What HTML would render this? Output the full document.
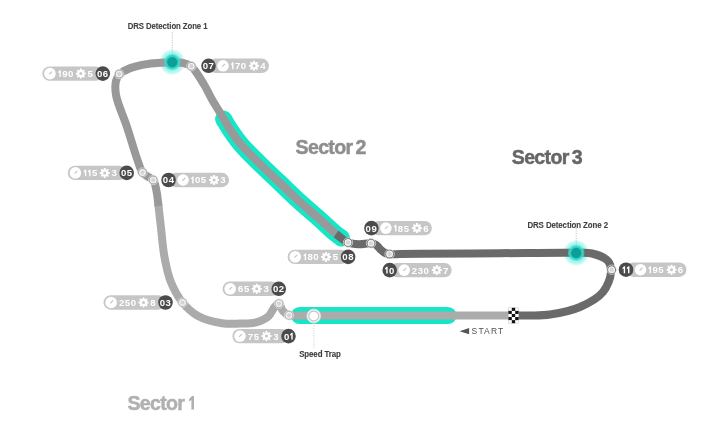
<!DOCTYPE html>
<html><head><meta charset="utf-8"><style>
html,body{margin:0;padding:0;background:#fff;}
body{width:720px;height:440px;overflow:hidden;position:relative;font-family:"Liberation Sans",sans-serif;}
svg{position:absolute;left:0;top:0;will-change:transform;filter:blur(0.35px);}
</style></head><body>
<svg width="720" height="440" viewBox="0 0 720 440">
<defs><radialGradient id="glow"><stop offset="0" stop-color="#5fe8dc"/><stop offset="0.55" stop-color="#8ef1e8"/><stop offset="0.85" stop-color="#c4f8f3"/><stop offset="1" stop-color="#e4fcfa" stop-opacity="0.5"/></radialGradient></defs>
<circle cx="172.25" cy="62.10" r="13" fill="url(#glow)"/>
<line x1="172.25" y1="32.10" x2="172.25" y2="56.10" stroke="#8fb4b2" stroke-width="0.7" stroke-dasharray="1.2 1.3"/>
<circle cx="576.20" cy="252.90" r="13" fill="url(#glow)"/>
<line x1="576.20" y1="222.90" x2="576.20" y2="246.90" stroke="#8fb4b2" stroke-width="0.7" stroke-dasharray="1.2 1.3"/>
<path d="M 223.60 119.00 C 225.83 122.67 227.71 126.14 230.30 130.00 C 233.37 134.56 236.72 139.46 241.00 144.50 C 246.26 150.69 253.52 157.60 260.00 164.00 C 266.52 170.44 273.33 176.67 280.00 183.00 C 286.67 189.33 293.27 195.86 300.00 202.00 C 306.61 208.02 313.73 213.91 320.00 219.50 C 325.65 224.53 331.99 230.74 336.00 234.00 C 338.25 235.83 339.67 236.67 341.50 238.00" fill="none" stroke="#16e5c6" stroke-width="17" stroke-linecap="round" stroke-linejoin="round"/>
<path d="M 299.5 315.5 L 448 315.5" fill="none" stroke="#16e5c6" stroke-width="17.2" stroke-linecap="round"/>
<path d="M 513.00 315.50 C 495.33 315.50 479.48 315.50 460.00 315.50 C 436.07 315.50 406.67 315.52 380.00 315.50 C 353.33 315.48 314.43 315.47 300.00 315.40 C 294.65 315.37 292.02 316.29 289.00 315.30 C 286.48 314.47 284.45 312.71 282.80 310.80 C 281.09 308.83 280.53 303.94 279.00 303.60 C 277.77 303.33 276.21 305.30 274.80 306.80 C 272.73 309.00 271.38 313.67 268.50 316.20 C 265.30 319.01 260.56 321.15 256.00 322.40 C 251.11 323.74 245.49 323.46 240.00 323.60 C 234.18 323.75 228.36 324.21 222.00 323.20 C 214.50 322.01 204.80 319.75 198.00 316.00 C 191.85 312.61 186.94 307.98 182.50 302.50 C 177.64 296.50 173.52 288.65 170.50 281.00 C 167.41 273.17 165.87 264.62 164.30 256.00 C 162.66 246.98 162.02 236.77 161.00 228.00 C 160.10 220.23 158.95 209.40 158.50 206.00 C 158.36 204.97 158.30 204.67 158.20 204.00" fill="none" stroke="#ababab" stroke-width="8" stroke-linejoin="round"/>
<path d="M 158.50 206.00 C 157.83 201.00 157.48 195.58 156.50 191.00 C 155.65 187.01 155.14 182.45 153.25 180.00 C 151.80 178.12 149.31 177.77 147.50 176.50 C 145.73 175.26 143.96 174.46 142.50 172.50 C 140.39 169.66 139.36 165.20 137.50 160.00 C 134.51 151.66 130.61 137.89 127.00 127.00 C 123.44 116.23 117.44 103.59 116.00 95.00 C 115.08 89.47 115.09 84.74 116.00 81.00 C 116.67 78.25 117.43 76.28 119.50 74.25 C 122.62 71.19 128.51 68.51 135.00 66.60 C 144.55 63.78 163.31 62.47 172.25 62.30 C 177.26 62.20 180.61 62.37 184.00 63.20 C 186.78 63.88 188.83 64.30 191.30 66.30 C 195.43 69.65 200.36 78.57 204.00 84.50 C 207.24 89.78 209.38 94.92 212.30 100.00 C 215.22 105.08 218.49 109.99 221.50 115.00 C 224.49 119.99 227.08 125.12 230.30 130.00 C 233.57 134.96 236.72 139.46 241.00 144.50 C 246.26 150.69 253.52 157.60 260.00 164.00 C 266.52 170.44 273.33 176.67 280.00 183.00 C 286.67 189.33 293.27 195.86 300.00 202.00 C 306.61 208.02 313.73 213.91 320.00 219.50 C 325.65 224.53 330.67 229.17 336.00 234.00" fill="none" stroke="#999999" stroke-width="8" stroke-linejoin="round"/>
<path d="M 336.00 234.00 C 340.00 236.83 343.89 240.83 348.00 242.50 C 351.58 243.95 355.24 244.05 359.00 244.20 C 362.90 244.35 367.89 242.96 371.00 243.30 C 373.05 243.52 374.51 243.89 376.00 244.80 C 377.61 245.79 378.74 247.87 380.20 249.20 C 381.58 250.46 382.92 251.78 384.50 252.60 C 386.06 253.41 387.58 253.82 389.60 254.10 C 392.43 254.49 395.97 254.04 400.00 254.00 C 405.59 253.95 411.11 253.88 420.00 253.80 C 437.78 253.64 473.66 253.37 500.00 253.20 C 525.71 253.04 560.31 252.49 576.20 252.80 C 583.44 252.94 586.84 252.23 592.00 253.50 C 597.45 254.84 604.93 257.36 608.00 261.00 C 610.46 263.93 611.24 267.83 611.00 272.00 C 610.67 277.72 607.60 286.38 603.00 292.00 C 597.80 298.34 588.52 303.28 580.00 307.00 C 570.96 310.94 559.05 313.16 550.00 314.50 C 542.72 315.58 536.40 315.34 530.00 315.50 C 524.11 315.65 518.67 315.50 513.00 315.50" fill="none" stroke="#6a6a6a" stroke-width="8" stroke-linejoin="round"/>
<circle cx="289.00" cy="315.30" r="4.7" fill="#aaaaaa" stroke="#e6e6e6" stroke-width="0.7"/>
<circle cx="289.00" cy="315.30" r="2.8" fill="#d4d4d4" stroke="#f0f0f0" stroke-width="1.4"/>
<circle cx="279.00" cy="303.60" r="4.7" fill="#aaaaaa" stroke="#e6e6e6" stroke-width="0.7"/>
<circle cx="279.00" cy="303.60" r="2.8" fill="#d4d4d4" stroke="#f0f0f0" stroke-width="1.4"/>
<circle cx="182.50" cy="302.50" r="4.7" fill="#aaaaaa" stroke="#e6e6e6" stroke-width="0.7"/>
<circle cx="182.50" cy="302.50" r="2.8" fill="#d4d4d4" stroke="#f0f0f0" stroke-width="1.4"/>
<circle cx="153.25" cy="180.00" r="4.7" fill="#999999" stroke="#e6e6e6" stroke-width="0.7"/>
<circle cx="153.25" cy="180.00" r="2.8" fill="#d4d4d4" stroke="#f0f0f0" stroke-width="1.4"/>
<circle cx="142.50" cy="172.50" r="4.7" fill="#999999" stroke="#e6e6e6" stroke-width="0.7"/>
<circle cx="142.50" cy="172.50" r="2.8" fill="#d4d4d4" stroke="#f0f0f0" stroke-width="1.4"/>
<circle cx="119.20" cy="74.10" r="4.7" fill="#999999" stroke="#e6e6e6" stroke-width="0.7"/>
<circle cx="119.20" cy="74.10" r="2.8" fill="#d4d4d4" stroke="#f0f0f0" stroke-width="1.4"/>
<circle cx="191.30" cy="66.20" r="4.7" fill="#999999" stroke="#e6e6e6" stroke-width="0.7"/>
<circle cx="191.30" cy="66.20" r="2.8" fill="#d4d4d4" stroke="#f0f0f0" stroke-width="1.4"/>
<circle cx="348.00" cy="242.50" r="4.7" fill="#6a6a6a" stroke="#e6e6e6" stroke-width="0.7"/>
<circle cx="348.00" cy="242.50" r="2.8" fill="#d4d4d4" stroke="#f0f0f0" stroke-width="1.4"/>
<circle cx="371.00" cy="243.30" r="4.7" fill="#6a6a6a" stroke="#e6e6e6" stroke-width="0.7"/>
<circle cx="371.00" cy="243.30" r="2.8" fill="#d4d4d4" stroke="#f0f0f0" stroke-width="1.4"/>
<circle cx="389.60" cy="254.10" r="4.7" fill="#6a6a6a" stroke="#e6e6e6" stroke-width="0.7"/>
<circle cx="389.60" cy="254.10" r="2.8" fill="#d4d4d4" stroke="#f0f0f0" stroke-width="1.4"/>
<circle cx="611.60" cy="269.70" r="4.7" fill="#6a6a6a" stroke="#e6e6e6" stroke-width="0.7"/>
<circle cx="611.60" cy="269.70" r="2.8" fill="#d4d4d4" stroke="#f0f0f0" stroke-width="1.4"/>
<circle cx="172.25" cy="62.10" r="8.2" fill="#4fe2d6" fill-opacity="0.6"/>
<circle cx="172.25" cy="62.10" r="7" fill="#2ad6c7"/>
<circle cx="172.25" cy="62.10" r="5.2" fill="#0f9d98"/>
<circle cx="576.20" cy="252.90" r="8.2" fill="#4fe2d6" fill-opacity="0.6"/>
<circle cx="576.20" cy="252.90" r="7" fill="#2ad6c7"/>
<circle cx="576.20" cy="252.90" r="5.2" fill="#0f9d98"/>
<text x="127.8" y="29.1" font-family="Liberation Sans" font-weight="bold" font-size="8.6" fill="#404040" letter-spacing="-0.1" stroke="#404040" stroke-width="0.1" textLength="79.6" lengthAdjust="spacingAndGlyphs">DRS Detection Zone 1</text>
<text x="527.4" y="227.6" font-family="Liberation Sans" font-weight="bold" font-size="8.6" fill="#404040" letter-spacing="-0.1" stroke="#404040" stroke-width="0.1" textLength="80.6" lengthAdjust="spacingAndGlyphs">DRS Detection Zone 2</text>
<line x1="313.9" y1="323" x2="313.9" y2="348.5" stroke="#c4c4c4" stroke-width="0.7" stroke-dasharray="1.2 1.2"/>
<circle cx="313.75" cy="316" r="7" fill="#f4f4f4" stroke="#d8d8d8" stroke-width="0.6"/>
<circle cx="313.75" cy="316" r="5" fill="#ffffff" stroke="#cacaca" stroke-width="1.3"/>
<text x="299.2" y="357" font-family="Liberation Sans" font-weight="bold" font-size="9" fill="#3c3c3c" letter-spacing="-0.1" stroke="#3c3c3c" stroke-width="0.12" textLength="41.6" lengthAdjust="spacingAndGlyphs">Speed Trap</text>
<path d="M 459.6 331.2 L 469.1 328.1 L 469.1 334.3 Z" fill="#555"/>
<text x="471.6" y="333.9" font-family="Liberation Sans" font-size="8.5" fill="#505050" letter-spacing="1.15">START</text>
<rect x="508.40" y="307.80" width="10.2" height="15.4" fill="#fff" stroke="#ccc" stroke-width="0.6"/>
<rect x="511.80" y="307.80" width="3.40" height="3.08" fill="#111"/>
<rect x="508.40" y="310.88" width="3.40" height="3.08" fill="#111"/>
<rect x="515.20" y="310.88" width="3.40" height="3.08" fill="#111"/>
<rect x="511.80" y="313.96" width="3.40" height="3.08" fill="#111"/>
<rect x="508.40" y="317.04" width="3.40" height="3.08" fill="#111"/>
<rect x="515.20" y="317.04" width="3.40" height="3.08" fill="#111"/>
<rect x="511.80" y="320.12" width="3.40" height="3.08" fill="#111"/>
<rect x="232.35" y="328.90" width="56.15" height="14.4" rx="7.2" fill="#c6c6c6"/>
<circle cx="288.50" cy="336.10" r="7.3" fill="#4b4b4b"/>
<text x="283.90" y="339.55" font-family="Liberation Sans" font-weight="bold" font-size="9.60" fill="#fff">0</text>
<path d="M 292.70 339.55 L 291.30 339.55 L 291.30 334.85 L 290.15 335.65 L 290.15 334.25 L 291.65 332.65 L 292.70 332.65 Z" fill="#fff"/>
<circle cx="239.95" cy="336.10" r="5.8" fill="#fff"/>
<line x1="239.15" y1="336.90" x2="241.95" y2="334.10" stroke="#c4c4c4" stroke-width="1.1"/>
<text x="247.85" y="339.55" font-family="Liberation Sans" font-weight="bold" font-size="9.60" fill="#fff">7</text>
<text x="253.70" y="339.55" font-family="Liberation Sans" font-weight="bold" font-size="9.60" fill="#fff">5</text>
<path d="M 271.52 335.22 L 271.52 336.98 L 270.07 337.08 L 269.71 337.93 L 270.67 339.03 L 269.43 340.27 L 268.33 339.31 L 267.48 339.67 L 267.38 341.12 L 265.62 341.12 L 265.52 339.67 L 264.67 339.31 L 263.57 340.27 L 262.33 339.03 L 263.29 337.93 L 262.93 337.08 L 261.48 336.98 L 261.48 335.22 L 262.93 335.12 L 263.29 334.27 L 262.33 333.17 L 263.57 331.93 L 264.67 332.89 L 265.52 332.53 L 265.62 331.08 L 267.38 331.08 L 267.48 332.53 L 268.33 332.89 L 269.43 331.93 L 270.67 333.17 L 269.71 334.27 L 270.07 335.12 Z" fill="#fff"/>
<circle cx="266.50" cy="336.10" r="1.5" fill="#c6c6c6"/>
<text x="273.20" y="339.55" font-family="Liberation Sans" font-weight="bold" font-size="9.60" fill="#fff">3</text>
<rect x="222.60" y="281.60" width="56.15" height="14.4" rx="7.2" fill="#c6c6c6"/>
<circle cx="278.75" cy="288.80" r="7.3" fill="#4b4b4b"/>
<text x="272.98" y="292.25" font-family="Liberation Sans" font-weight="bold" font-size="9.60" fill="#fff">0</text>
<text x="278.83" y="292.25" font-family="Liberation Sans" font-weight="bold" font-size="9.60" fill="#fff">2</text>
<circle cx="230.20" cy="288.80" r="5.8" fill="#fff"/>
<line x1="229.40" y1="289.60" x2="232.20" y2="286.80" stroke="#c4c4c4" stroke-width="1.1"/>
<text x="238.10" y="292.25" font-family="Liberation Sans" font-weight="bold" font-size="9.60" fill="#fff">6</text>
<text x="243.95" y="292.25" font-family="Liberation Sans" font-weight="bold" font-size="9.60" fill="#fff">5</text>
<path d="M 261.77 287.92 L 261.77 289.68 L 260.32 289.78 L 259.96 290.63 L 260.92 291.73 L 259.68 292.97 L 258.58 292.01 L 257.73 292.37 L 257.63 293.82 L 255.87 293.82 L 255.77 292.37 L 254.92 292.01 L 253.82 292.97 L 252.58 291.73 L 253.54 290.63 L 253.18 289.78 L 251.73 289.68 L 251.73 287.92 L 253.18 287.82 L 253.54 286.97 L 252.58 285.87 L 253.82 284.63 L 254.92 285.59 L 255.77 285.23 L 255.87 283.78 L 257.63 283.78 L 257.73 285.23 L 258.58 285.59 L 259.68 284.63 L 260.92 285.87 L 259.96 286.97 L 260.32 287.82 Z" fill="#fff"/>
<circle cx="256.75" cy="288.80" r="1.5" fill="#c6c6c6"/>
<text x="263.45" y="292.25" font-family="Liberation Sans" font-weight="bold" font-size="9.60" fill="#fff">3</text>
<rect x="103.50" y="295.30" width="62.00" height="14.4" rx="7.2" fill="#c6c6c6"/>
<circle cx="165.50" cy="302.50" r="7.3" fill="#4b4b4b"/>
<text x="159.72" y="305.95" font-family="Liberation Sans" font-weight="bold" font-size="9.60" fill="#fff">0</text>
<text x="165.57" y="305.95" font-family="Liberation Sans" font-weight="bold" font-size="9.60" fill="#fff">3</text>
<circle cx="111.10" cy="302.50" r="5.8" fill="#fff"/>
<line x1="110.30" y1="303.30" x2="113.10" y2="300.50" stroke="#c4c4c4" stroke-width="1.1"/>
<text x="119.00" y="305.95" font-family="Liberation Sans" font-weight="bold" font-size="9.60" fill="#fff">2</text>
<text x="124.85" y="305.95" font-family="Liberation Sans" font-weight="bold" font-size="9.60" fill="#fff">5</text>
<text x="130.70" y="305.95" font-family="Liberation Sans" font-weight="bold" font-size="9.60" fill="#fff">0</text>
<path d="M 148.52 301.62 L 148.52 303.38 L 147.07 303.48 L 146.71 304.33 L 147.67 305.43 L 146.43 306.67 L 145.33 305.71 L 144.48 306.07 L 144.38 307.52 L 142.62 307.52 L 142.52 306.07 L 141.67 305.71 L 140.57 306.67 L 139.33 305.43 L 140.29 304.33 L 139.93 303.48 L 138.48 303.38 L 138.48 301.62 L 139.93 301.52 L 140.29 300.67 L 139.33 299.57 L 140.57 298.33 L 141.67 299.29 L 142.52 298.93 L 142.62 297.48 L 144.38 297.48 L 144.48 298.93 L 145.33 299.29 L 146.43 298.33 L 147.67 299.57 L 146.71 300.67 L 147.07 301.52 Z" fill="#fff"/>
<circle cx="143.50" cy="302.50" r="1.5" fill="#c6c6c6"/>
<text x="150.20" y="305.95" font-family="Liberation Sans" font-weight="bold" font-size="9.60" fill="#fff">8</text>
<rect x="168.60" y="172.80" width="60.45" height="14.4" rx="7.2" fill="#c6c6c6"/>
<circle cx="168.60" cy="180.00" r="7.3" fill="#4b4b4b"/>
<text x="162.82" y="183.45" font-family="Liberation Sans" font-weight="bold" font-size="9.60" fill="#fff">0</text>
<text x="168.67" y="183.45" font-family="Liberation Sans" font-weight="bold" font-size="9.60" fill="#fff">4</text>
<circle cx="183.10" cy="180.00" r="5.8" fill="#fff"/>
<line x1="182.30" y1="180.80" x2="185.10" y2="178.00" stroke="#c4c4c4" stroke-width="1.1"/>
<path d="M 193.65 183.45 L 192.25 183.45 L 192.25 178.75 L 191.10 179.55 L 191.10 178.15 L 192.60 176.55 L 193.65 176.55 Z" fill="#fff"/>
<text x="195.00" y="183.45" font-family="Liberation Sans" font-weight="bold" font-size="9.60" fill="#fff">0</text>
<text x="200.85" y="183.45" font-family="Liberation Sans" font-weight="bold" font-size="9.60" fill="#fff">5</text>
<path d="M 219.17 179.12 L 219.17 180.88 L 217.72 180.98 L 217.36 181.83 L 218.32 182.93 L 217.08 184.17 L 215.98 183.21 L 215.13 183.57 L 215.03 185.02 L 213.27 185.02 L 213.17 183.57 L 212.32 183.21 L 211.22 184.17 L 209.98 182.93 L 210.94 181.83 L 210.58 180.98 L 209.13 180.88 L 209.13 179.12 L 210.58 179.02 L 210.94 178.17 L 209.98 177.07 L 211.22 175.83 L 212.32 176.79 L 213.17 176.43 L 213.27 174.98 L 215.03 174.98 L 215.13 176.43 L 215.98 176.79 L 217.08 175.83 L 218.32 177.07 L 217.36 178.17 L 217.72 179.02 Z" fill="#fff"/>
<circle cx="214.15" cy="180.00" r="1.5" fill="#c6c6c6"/>
<text x="220.35" y="183.45" font-family="Liberation Sans" font-weight="bold" font-size="9.60" fill="#fff">3</text>
<rect x="67.80" y="165.70" width="58.90" height="14.4" rx="7.2" fill="#c6c6c6"/>
<circle cx="126.70" cy="172.90" r="7.3" fill="#4b4b4b"/>
<text x="120.92" y="176.35" font-family="Liberation Sans" font-weight="bold" font-size="9.60" fill="#fff">0</text>
<text x="126.77" y="176.35" font-family="Liberation Sans" font-weight="bold" font-size="9.60" fill="#fff">5</text>
<circle cx="75.40" cy="172.90" r="5.8" fill="#fff"/>
<line x1="74.60" y1="173.70" x2="77.40" y2="170.90" stroke="#c4c4c4" stroke-width="1.1"/>
<path d="M 86.25 176.35 L 84.85 176.35 L 84.85 171.65 L 83.70 172.45 L 83.70 171.05 L 85.20 169.45 L 86.25 169.45 Z" fill="#fff"/>
<path d="M 90.55 176.35 L 89.15 176.35 L 89.15 171.65 L 88.00 172.45 L 88.00 171.05 L 89.50 169.45 L 90.55 169.45 Z" fill="#fff"/>
<text x="91.90" y="176.35" font-family="Liberation Sans" font-weight="bold" font-size="9.60" fill="#fff">5</text>
<path d="M 109.72 172.02 L 109.72 173.78 L 108.27 173.88 L 107.91 174.73 L 108.87 175.83 L 107.63 177.07 L 106.53 176.11 L 105.68 176.47 L 105.58 177.92 L 103.82 177.92 L 103.72 176.47 L 102.87 176.11 L 101.77 177.07 L 100.53 175.83 L 101.49 174.73 L 101.13 173.88 L 99.68 173.78 L 99.68 172.02 L 101.13 171.92 L 101.49 171.07 L 100.53 169.97 L 101.77 168.73 L 102.87 169.69 L 103.72 169.33 L 103.82 167.88 L 105.58 167.88 L 105.68 169.33 L 106.53 169.69 L 107.63 168.73 L 108.87 169.97 L 107.91 171.07 L 108.27 171.92 Z" fill="#fff"/>
<circle cx="104.70" cy="172.90" r="1.5" fill="#c6c6c6"/>
<text x="111.40" y="176.35" font-family="Liberation Sans" font-weight="bold" font-size="9.60" fill="#fff">3</text>
<rect x="42.35" y="66.40" width="60.45" height="14.4" rx="7.2" fill="#c6c6c6"/>
<circle cx="102.80" cy="73.60" r="7.3" fill="#4b4b4b"/>
<text x="97.02" y="77.05" font-family="Liberation Sans" font-weight="bold" font-size="9.60" fill="#fff">0</text>
<text x="102.87" y="77.05" font-family="Liberation Sans" font-weight="bold" font-size="9.60" fill="#fff">6</text>
<circle cx="49.95" cy="73.60" r="5.8" fill="#fff"/>
<line x1="49.15" y1="74.40" x2="51.95" y2="71.60" stroke="#c4c4c4" stroke-width="1.1"/>
<path d="M 60.80 77.05 L 59.40 77.05 L 59.40 72.35 L 58.25 73.15 L 58.25 71.75 L 59.75 70.15 L 60.80 70.15 Z" fill="#fff"/>
<text x="62.15" y="77.05" font-family="Liberation Sans" font-weight="bold" font-size="9.60" fill="#fff">9</text>
<text x="68.00" y="77.05" font-family="Liberation Sans" font-weight="bold" font-size="9.60" fill="#fff">0</text>
<path d="M 85.82 72.72 L 85.82 74.48 L 84.37 74.58 L 84.01 75.43 L 84.97 76.53 L 83.73 77.77 L 82.63 76.81 L 81.78 77.17 L 81.68 78.62 L 79.92 78.62 L 79.82 77.17 L 78.97 76.81 L 77.87 77.77 L 76.63 76.53 L 77.59 75.43 L 77.23 74.58 L 75.78 74.48 L 75.78 72.72 L 77.23 72.62 L 77.59 71.77 L 76.63 70.67 L 77.87 69.43 L 78.97 70.39 L 79.82 70.03 L 79.92 68.58 L 81.68 68.58 L 81.78 70.03 L 82.63 70.39 L 83.73 69.43 L 84.97 70.67 L 84.01 71.77 L 84.37 72.62 Z" fill="#fff"/>
<circle cx="80.80" cy="73.60" r="1.5" fill="#c6c6c6"/>
<text x="87.50" y="77.05" font-family="Liberation Sans" font-weight="bold" font-size="9.60" fill="#fff">5</text>
<rect x="208.50" y="58.60" width="60.45" height="14.4" rx="7.2" fill="#c6c6c6"/>
<circle cx="208.50" cy="65.80" r="7.3" fill="#4b4b4b"/>
<text x="202.72" y="69.25" font-family="Liberation Sans" font-weight="bold" font-size="9.60" fill="#fff">0</text>
<text x="208.57" y="69.25" font-family="Liberation Sans" font-weight="bold" font-size="9.60" fill="#fff">7</text>
<circle cx="223.00" cy="65.80" r="5.8" fill="#fff"/>
<line x1="222.20" y1="66.60" x2="225.00" y2="63.80" stroke="#c4c4c4" stroke-width="1.1"/>
<path d="M 233.55 69.25 L 232.15 69.25 L 232.15 64.55 L 231.00 65.35 L 231.00 63.95 L 232.50 62.35 L 233.55 62.35 Z" fill="#fff"/>
<text x="234.90" y="69.25" font-family="Liberation Sans" font-weight="bold" font-size="9.60" fill="#fff">7</text>
<text x="240.75" y="69.25" font-family="Liberation Sans" font-weight="bold" font-size="9.60" fill="#fff">0</text>
<path d="M 259.07 64.92 L 259.07 66.68 L 257.62 66.78 L 257.26 67.63 L 258.22 68.73 L 256.98 69.97 L 255.88 69.01 L 255.03 69.37 L 254.93 70.82 L 253.17 70.82 L 253.07 69.37 L 252.22 69.01 L 251.12 69.97 L 249.88 68.73 L 250.84 67.63 L 250.48 66.78 L 249.03 66.68 L 249.03 64.92 L 250.48 64.82 L 250.84 63.97 L 249.88 62.87 L 251.12 61.63 L 252.22 62.59 L 253.07 62.23 L 253.17 60.78 L 254.93 60.78 L 255.03 62.23 L 255.88 62.59 L 256.98 61.63 L 258.22 62.87 L 257.26 63.97 L 257.62 64.82 Z" fill="#fff"/>
<circle cx="254.05" cy="65.80" r="1.5" fill="#c6c6c6"/>
<text x="260.25" y="69.25" font-family="Liberation Sans" font-weight="bold" font-size="9.60" fill="#fff">4</text>
<rect x="287.65" y="249.70" width="60.45" height="14.4" rx="7.2" fill="#c6c6c6"/>
<circle cx="348.10" cy="256.90" r="7.3" fill="#4b4b4b"/>
<text x="342.33" y="260.35" font-family="Liberation Sans" font-weight="bold" font-size="9.60" fill="#fff">0</text>
<text x="348.18" y="260.35" font-family="Liberation Sans" font-weight="bold" font-size="9.60" fill="#fff">8</text>
<circle cx="295.25" cy="256.90" r="5.8" fill="#fff"/>
<line x1="294.45" y1="257.70" x2="297.25" y2="254.90" stroke="#c4c4c4" stroke-width="1.1"/>
<path d="M 306.10 260.35 L 304.70 260.35 L 304.70 255.65 L 303.55 256.45 L 303.55 255.05 L 305.05 253.45 L 306.10 253.45 Z" fill="#fff"/>
<text x="307.45" y="260.35" font-family="Liberation Sans" font-weight="bold" font-size="9.60" fill="#fff">8</text>
<text x="313.30" y="260.35" font-family="Liberation Sans" font-weight="bold" font-size="9.60" fill="#fff">0</text>
<path d="M 331.12 256.02 L 331.12 257.78 L 329.67 257.88 L 329.31 258.73 L 330.27 259.83 L 329.03 261.07 L 327.93 260.11 L 327.08 260.47 L 326.98 261.92 L 325.22 261.92 L 325.12 260.47 L 324.27 260.11 L 323.17 261.07 L 321.93 259.83 L 322.89 258.73 L 322.53 257.88 L 321.08 257.78 L 321.08 256.02 L 322.53 255.92 L 322.89 255.07 L 321.93 253.97 L 323.17 252.73 L 324.27 253.69 L 325.12 253.33 L 325.22 251.88 L 326.98 251.88 L 327.08 253.33 L 327.93 253.69 L 329.03 252.73 L 330.27 253.97 L 329.31 255.07 L 329.67 255.92 Z" fill="#fff"/>
<circle cx="326.10" cy="256.90" r="1.5" fill="#c6c6c6"/>
<text x="332.80" y="260.35" font-family="Liberation Sans" font-weight="bold" font-size="9.60" fill="#fff">5</text>
<rect x="371.40" y="220.90" width="60.45" height="14.4" rx="7.2" fill="#c6c6c6"/>
<circle cx="371.40" cy="228.10" r="7.3" fill="#4b4b4b"/>
<text x="365.62" y="231.55" font-family="Liberation Sans" font-weight="bold" font-size="9.60" fill="#fff">0</text>
<text x="371.48" y="231.55" font-family="Liberation Sans" font-weight="bold" font-size="9.60" fill="#fff">9</text>
<circle cx="385.90" cy="228.10" r="5.8" fill="#fff"/>
<line x1="385.10" y1="228.90" x2="387.90" y2="226.10" stroke="#c4c4c4" stroke-width="1.1"/>
<path d="M 396.45 231.55 L 395.05 231.55 L 395.05 226.85 L 393.90 227.65 L 393.90 226.25 L 395.40 224.65 L 396.45 224.65 Z" fill="#fff"/>
<text x="397.80" y="231.55" font-family="Liberation Sans" font-weight="bold" font-size="9.60" fill="#fff">8</text>
<text x="403.65" y="231.55" font-family="Liberation Sans" font-weight="bold" font-size="9.60" fill="#fff">5</text>
<path d="M 421.97 227.22 L 421.97 228.98 L 420.52 229.08 L 420.16 229.93 L 421.12 231.03 L 419.88 232.27 L 418.78 231.31 L 417.93 231.67 L 417.83 233.12 L 416.07 233.12 L 415.97 231.67 L 415.12 231.31 L 414.02 232.27 L 412.78 231.03 L 413.74 229.93 L 413.38 229.08 L 411.93 228.98 L 411.93 227.22 L 413.38 227.12 L 413.74 226.27 L 412.78 225.17 L 414.02 223.93 L 415.12 224.89 L 415.97 224.53 L 416.07 223.08 L 417.83 223.08 L 417.93 224.53 L 418.78 224.89 L 419.88 223.93 L 421.12 225.17 L 420.16 226.27 L 420.52 227.12 Z" fill="#fff"/>
<circle cx="416.95" cy="228.10" r="1.5" fill="#c6c6c6"/>
<text x="423.15" y="231.55" font-family="Liberation Sans" font-weight="bold" font-size="9.60" fill="#fff">6</text>
<rect x="389.70" y="262.90" width="62.00" height="14.4" rx="7.2" fill="#c6c6c6"/>
<circle cx="389.70" cy="270.10" r="7.3" fill="#4b4b4b"/>
<path d="M 387.65 273.55 L 386.25 273.55 L 386.25 268.85 L 385.10 269.65 L 385.10 268.25 L 386.60 266.65 L 387.65 266.65 Z" fill="#fff"/>
<text x="389.00" y="273.55" font-family="Liberation Sans" font-weight="bold" font-size="9.60" fill="#fff">0</text>
<circle cx="404.20" cy="270.10" r="5.8" fill="#fff"/>
<line x1="403.40" y1="270.90" x2="406.20" y2="268.10" stroke="#c4c4c4" stroke-width="1.1"/>
<text x="411.80" y="273.55" font-family="Liberation Sans" font-weight="bold" font-size="9.60" fill="#fff">2</text>
<text x="417.65" y="273.55" font-family="Liberation Sans" font-weight="bold" font-size="9.60" fill="#fff">3</text>
<text x="423.50" y="273.55" font-family="Liberation Sans" font-weight="bold" font-size="9.60" fill="#fff">0</text>
<path d="M 441.82 269.22 L 441.82 270.98 L 440.37 271.08 L 440.01 271.93 L 440.97 273.03 L 439.73 274.27 L 438.63 273.31 L 437.78 273.67 L 437.68 275.12 L 435.92 275.12 L 435.82 273.67 L 434.97 273.31 L 433.87 274.27 L 432.63 273.03 L 433.59 271.93 L 433.23 271.08 L 431.78 270.98 L 431.78 269.22 L 433.23 269.12 L 433.59 268.27 L 432.63 267.17 L 433.87 265.93 L 434.97 266.89 L 435.82 266.53 L 435.92 265.08 L 437.68 265.08 L 437.78 266.53 L 438.63 266.89 L 439.73 265.93 L 440.97 267.17 L 440.01 268.27 L 440.37 269.12 Z" fill="#fff"/>
<circle cx="436.80" cy="270.10" r="1.5" fill="#c6c6c6"/>
<text x="443.00" y="273.55" font-family="Liberation Sans" font-weight="bold" font-size="9.60" fill="#fff">7</text>
<rect x="626.00" y="262.50" width="60.45" height="14.4" rx="7.2" fill="#c6c6c6"/>
<circle cx="626.00" cy="269.70" r="7.3" fill="#4b4b4b"/>
<path d="M 625.12 273.15 L 623.73 273.15 L 623.73 268.45 L 622.58 269.25 L 622.58 267.85 L 624.08 266.25 L 625.12 266.25 Z" fill="#fff"/>
<path d="M 629.42 273.15 L 628.02 273.15 L 628.02 268.45 L 626.88 269.25 L 626.88 267.85 L 628.38 266.25 L 629.42 266.25 Z" fill="#fff"/>
<circle cx="640.50" cy="269.70" r="5.8" fill="#fff"/>
<line x1="639.70" y1="270.50" x2="642.50" y2="267.70" stroke="#c4c4c4" stroke-width="1.1"/>
<path d="M 651.05 273.15 L 649.65 273.15 L 649.65 268.45 L 648.50 269.25 L 648.50 267.85 L 650.00 266.25 L 651.05 266.25 Z" fill="#fff"/>
<text x="652.40" y="273.15" font-family="Liberation Sans" font-weight="bold" font-size="9.60" fill="#fff">9</text>
<text x="658.25" y="273.15" font-family="Liberation Sans" font-weight="bold" font-size="9.60" fill="#fff">5</text>
<path d="M 676.57 268.82 L 676.57 270.58 L 675.12 270.68 L 674.76 271.53 L 675.72 272.63 L 674.48 273.87 L 673.38 272.91 L 672.53 273.27 L 672.43 274.72 L 670.67 274.72 L 670.57 273.27 L 669.72 272.91 L 668.62 273.87 L 667.38 272.63 L 668.34 271.53 L 667.98 270.68 L 666.53 270.58 L 666.53 268.82 L 667.98 268.72 L 668.34 267.87 L 667.38 266.77 L 668.62 265.53 L 669.72 266.49 L 670.57 266.13 L 670.67 264.68 L 672.43 264.68 L 672.53 266.13 L 673.38 266.49 L 674.48 265.53 L 675.72 266.77 L 674.76 267.87 L 675.12 268.72 Z" fill="#fff"/>
<circle cx="671.55" cy="269.70" r="1.5" fill="#c6c6c6"/>
<text x="677.75" y="273.15" font-family="Liberation Sans" font-weight="bold" font-size="9.60" fill="#fff">6</text>
<text x="127.4" y="409.6" font-family="Liberation Sans" font-weight="bold" font-size="19.6" letter-spacing="-0.7" word-spacing="-1.6" stroke-width="0.45" fill="#b0b0b0" stroke="#b0b0b0">Sector</text>
<path d="M 194.00 409.60 L 191.40 409.60 L 191.40 400.00 L 189.10 401.60 L 189.10 399.00 L 192.00 396.00 L 194.00 396.00 Z" fill="#b0b0b0"/>
<text x="295.6" y="154" font-family="Liberation Sans" font-weight="bold" font-size="19.6" letter-spacing="-0.7" word-spacing="-1.6" stroke-width="0.45" fill="#8e8e8e" stroke="#8e8e8e">Sector 2</text>
<text x="511.8" y="163.7" font-family="Liberation Sans" font-weight="bold" font-size="19.6" letter-spacing="-0.7" word-spacing="-1.6" stroke-width="0.45" fill="#666666" stroke="#666666">Sector 3</text>
</svg></body></html>
